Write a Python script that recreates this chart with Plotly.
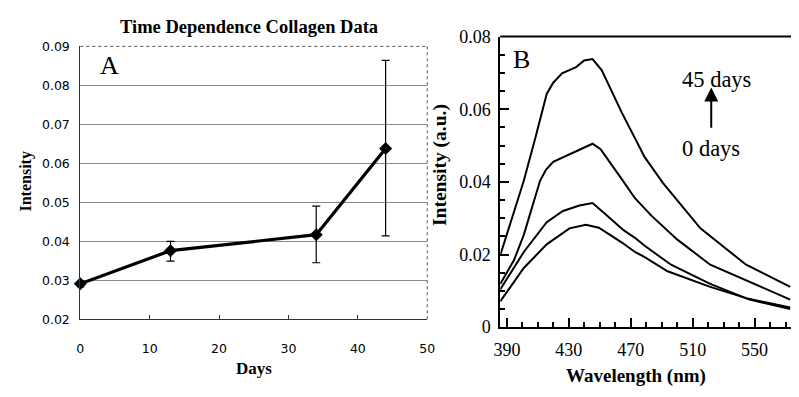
import plotly.graph_objects as go

W, H = 799, 397

# ---------------- Panel A data ----------------
days = [0, 13, 34, 44]
intensity_a = [0.0291, 0.0376, 0.0417, 0.0638]
err_hi = [0.0299, 0.0400, 0.0490, 0.0864]
err_lo = [0.0283, 0.0349, 0.0345, 0.0414]
a_xticks = [0, 10, 20, 30, 40, 50]
a_yticks = [0.02, 0.03, 0.04, 0.05, 0.06, 0.07, 0.08, 0.09]

# ---------------- Panel B data ----------------
wl_0d = [385.7, 400.9, 415.7, 430.4, 441.0, 449.4, 464.3, 472.7, 479.0, 493.8, 521.3, 544.5, 573.0]
int_0d = [0.0071, 0.0163, 0.0228, 0.0272, 0.0282, 0.0274, 0.0233, 0.0207, 0.0193, 0.0154, 0.0111, 0.0080, 0.0054]

wl_2 = [385.7, 400.9, 415.7, 426.2, 436.8, 445.3, 453.7, 465.3, 472.7, 479.0, 496.0, 521.3, 546.7, 573.0]
int_2 = [0.0104, 0.0207, 0.0289, 0.0320, 0.0335, 0.0342, 0.0311, 0.0267, 0.0246, 0.0224, 0.0172, 0.0119, 0.0076, 0.0050]

wl_3 = [385.7, 394.6, 400.9, 411.4, 415.2, 419.9, 445.3, 450.5, 464.3, 472.7, 483.3, 500.1, 521.3, 542.4, 573.0]
int_3 = [0.0119, 0.0185, 0.0254, 0.0403, 0.0433, 0.0455, 0.0505, 0.0490, 0.0407, 0.0355, 0.0307, 0.0241, 0.0172, 0.0133, 0.0076]

wl_45d = [385.7, 392.4, 400.9, 408.3, 415.7, 419.9, 425.6, 434.7, 439.9, 445.3, 451.2, 464.3, 472.7, 479.0, 490.6, 515.0, 544.5, 573.0]
int_45d = [0.0198, 0.0289, 0.0403, 0.0520, 0.0642, 0.0673, 0.0699, 0.0716, 0.0734, 0.0738, 0.0708, 0.0590, 0.0520, 0.0468, 0.0398, 0.0272, 0.0172, 0.0111]

b_xticks = [390, 430, 470, 510, 550]
b_yticks = [0, 0.02, 0.04, 0.06, 0.08]

SERIF = "Liberation Serif"
SANS = "DejaVu Sans"


def px(x):
    return x / W


def py(y):
    return 1 - y / H


fig = go.Figure()

fig.add_trace(go.Scatter(
    x=days, y=intensity_a, mode="lines+markers",
    line=dict(color="black", width=3.2),
    marker=dict(symbol="diamond", size=10, color="black"),
    error_y=dict(type="data", symmetric=False,
                 array=[h - v for h, v in zip(err_hi, intensity_a)],
                 arrayminus=[v - l for l, v in zip(err_lo, intensity_a)],
                 color="black", thickness=1.2, width=4),
    xaxis="x", yaxis="y", showlegend=False, cliponaxis=False,
))

for wl, iv in [(wl_0d, int_0d), (wl_2, int_2), (wl_3, int_3), (wl_45d, int_45d)]:
    fig.add_trace(go.Scatter(
        x=wl, y=iv, mode="lines", line=dict(color="black", width=2),
        xaxis="x2", yaxis="y2", showlegend=False,
    ))

fig.update_layout(
    width=W, height=H, margin=dict(l=0, r=0, t=0, b=0),
    paper_bgcolor="white", plot_bgcolor="white",
    xaxis=dict(domain=[px(74.7), px(428.3)], range=[0, 50], tickvals=a_xticks, anchor="y",
               showgrid=False, zeroline=False, showline=True, linecolor="#333", linewidth=1,
               ticks="inside", ticklen=4, tickcolor="#333",
               tickfont=dict(family=SANS, size=12.5, color="black"), ticklabelstandoff=18),
    yaxis=dict(domain=[py(325.7), py(38.3)], range=[0.02, 0.09], tickvals=a_yticks, anchor="x",
               tickformat=".2f", showgrid=True, gridcolor="#8a8a8a", gridwidth=1,
               zeroline=False, showline=True, linecolor="#333", linewidth=1,
               ticks="", ticklabelstandoff=7,
               tickfont=dict(family=SANS, size=12.5, color="black")),
    xaxis2=dict(domain=[px(502.7), 1.0], range=[385.7, 573.5], tickvals=b_xticks, anchor="y2",
                showgrid=False, zeroline=False, showline=True, linecolor="black", linewidth=2,
                ticks="inside", ticklen=9, tickwidth=2, tickcolor="black",
                minor=dict(dtick=10, tick0=390, ticks="inside", ticklen=5, tickwidth=2, tickcolor="black"),
                tickfont=dict(family=SERIF, size=18, color="black"), ticklabelstandoff=5),
    yaxis2=dict(domain=[py(334), py(28)], range=[0, 0.08], tickvals=b_yticks, anchor="x2",
                tickformat="~g", showgrid=False, zeroline=False, showline=True, linecolor="black",
                linewidth=2, ticks="inside", ticklen=9, tickwidth=2, tickcolor="black",
                minor=dict(dtick=0.005, tick0=0, ticks="inside", ticklen=5, tickwidth=2, tickcolor="black"),
                tickfont=dict(family=SERIF, size=18, color="black"), ticklabelstandoff=4),
    shapes=[
        dict(type="line", xref="x domain", yref="y domain", x0=0, x1=1, y0=1, y1=1,
             line=dict(color="#555", width=1, dash="dot")),
        dict(type="line", xref="x domain", yref="y domain", x0=1, x1=1, y0=0, y1=1,
             line=dict(color="#555", width=1, dash="dot")),
        dict(type="line", xref="x2 domain", yref="y2 domain", x0=0, x1=1, y0=1, y1=1,
             line=dict(color="black", width=2)),
    ],
    annotations=[
        dict(text="<b>Time Dependence Collagen Data</b>", x=px(246.7), y=py(18), xref="paper", yref="paper",
             showarrow=False, font=dict(family=SERIF, size=18.5, color="black"), xanchor="center", yanchor="middle"),
        dict(text="<b>Days</b>", x=px(251.7), y=py(377), xref="paper", yref="paper",
             showarrow=False, font=dict(family=SERIF, size=17, color="black"), xanchor="center", yanchor="middle"),
        dict(text="<b>Intensity</b>", x=px(19), y=py(181), xref="paper", yref="paper", textangle=-90,
             showarrow=False, font=dict(family=SERIF, size=16, color="black"), xanchor="center", yanchor="middle"),
        dict(text="A", x=px(104), y=py(58), xref="paper", yref="paper",
             showarrow=False, font=dict(family=SERIF, size=26, color="black"), xanchor="center", yanchor="middle"),
        dict(text="<b>Wavelength (nm)</b>", x=px(641.5), y=py(385), xref="paper", yref="paper",
             showarrow=False, font=dict(family=SERIF, size=19, color="black"), xanchor="center", yanchor="middle"),
        dict(text="<b>Intensity (a.u.)</b>", x=px(441.5), y=py(163), xref="paper", yref="paper", textangle=-90,
             showarrow=False, font=dict(family=SERIF, size=19.5, color="black"), xanchor="center", yanchor="middle"),
        dict(text="B", x=px(524), y=py(52), xref="paper", yref="paper",
             showarrow=False, font=dict(family=SERIF, size=26, color="black"), xanchor="center", yanchor="middle"),
        dict(text="45 days", x=px(723), y=py(73), xref="paper", yref="paper",
             showarrow=False, font=dict(family=SERIF, size=22.5, color="black"), xanchor="center", yanchor="middle"),
        dict(text="0 days", x=px(717.5), y=py(146), xref="paper", yref="paper",
             showarrow=False, font=dict(family=SERIF, size=22.5, color="black"), xanchor="center", yanchor="middle"),
        dict(text="", x=px(717.7), y=py(81.7), xref="paper", yref="paper", showarrow=True,
             ax=0, ay=41.6, arrowhead=2, arrowsize=1.4, arrowwidth=2, arrowcolor="black", standoff=0),
    ],
)

fig.write_html("out.html")
